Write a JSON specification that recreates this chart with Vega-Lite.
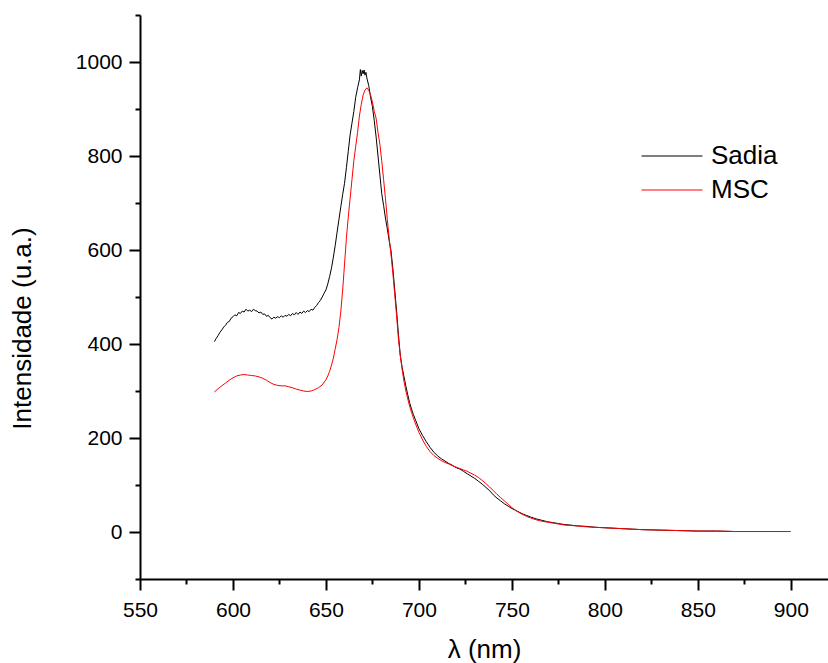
{
  "$schema": "https://vega.github.io/schema/vega-lite/v6.json",
  "autosize": {"type": "none"},
  "width": 688,
  "height": 564,
  "padding": {"left": 140, "top": 15, "right": 0, "bottom": 84},
  "background": "white",
  "config": {
    "view": {"stroke": null},
    "font": "Liberation Sans",
    "axis": {
      "grid": false,
      "domainColor": "black",
      "domainWidth": 2,
      "tickColor": "black",
      "tickWidth": 2,
      "labelColor": "black",
      "labelFont": "Liberation Sans",
      "labelFontSize": 21,
      "titleColor": "black",
      "titleFont": "Liberation Sans",
      "titleFontSize": 26,
      "titleFontWeight": "normal"
    }
  },
  "data": {
    "values": [
      {"s": "Sadia", "x": 590, "y": 405}, {"s": "Sadia", "x": 591, "y": 412}, {"s": "Sadia", "x": 592, "y": 418},
      {"s": "Sadia", "x": 593, "y": 425}, {"s": "Sadia", "x": 594, "y": 430}, {"s": "Sadia", "x": 595, "y": 436},
      {"s": "Sadia", "x": 596, "y": 440}, {"s": "Sadia", "x": 597, "y": 446}, {"s": "Sadia", "x": 598, "y": 448},
      {"s": "Sadia", "x": 599, "y": 455}, {"s": "Sadia", "x": 600, "y": 458}, {"s": "Sadia", "x": 601, "y": 462},
      {"s": "Sadia", "x": 602, "y": 460}, {"s": "Sadia", "x": 603, "y": 467}, {"s": "Sadia", "x": 604, "y": 465},
      {"s": "Sadia", "x": 605, "y": 470}, {"s": "Sadia", "x": 606, "y": 468}, {"s": "Sadia", "x": 607, "y": 474},
      {"s": "Sadia", "x": 608, "y": 470}, {"s": "Sadia", "x": 609, "y": 472}, {"s": "Sadia", "x": 610, "y": 469},
      {"s": "Sadia", "x": 611, "y": 474}, {"s": "Sadia", "x": 612, "y": 471}, {"s": "Sadia", "x": 613, "y": 470},
      {"s": "Sadia", "x": 614, "y": 466}, {"s": "Sadia", "x": 615, "y": 468}, {"s": "Sadia", "x": 616, "y": 463},
      {"s": "Sadia", "x": 617, "y": 464}, {"s": "Sadia", "x": 618, "y": 459}, {"s": "Sadia", "x": 619, "y": 461},
      {"s": "Sadia", "x": 620, "y": 456}, {"s": "Sadia", "x": 621, "y": 453}, {"s": "Sadia", "x": 622, "y": 457},
      {"s": "Sadia", "x": 623, "y": 455}, {"s": "Sadia", "x": 624, "y": 458}, {"s": "Sadia", "x": 625, "y": 456},
      {"s": "Sadia", "x": 626, "y": 460}, {"s": "Sadia", "x": 627, "y": 457}, {"s": "Sadia", "x": 628, "y": 461},
      {"s": "Sadia", "x": 629, "y": 459}, {"s": "Sadia", "x": 630, "y": 463}, {"s": "Sadia", "x": 631, "y": 460},
      {"s": "Sadia", "x": 632, "y": 465}, {"s": "Sadia", "x": 633, "y": 462}, {"s": "Sadia", "x": 634, "y": 467},
      {"s": "Sadia", "x": 635, "y": 463}, {"s": "Sadia", "x": 636, "y": 468}, {"s": "Sadia", "x": 637, "y": 465},
      {"s": "Sadia", "x": 638, "y": 470}, {"s": "Sadia", "x": 639, "y": 467}, {"s": "Sadia", "x": 640, "y": 471},
      {"s": "Sadia", "x": 641, "y": 469}, {"s": "Sadia", "x": 642, "y": 474}, {"s": "Sadia", "x": 643, "y": 472},
      {"s": "Sadia", "x": 644, "y": 478}, {"s": "Sadia", "x": 645, "y": 482}, {"s": "Sadia", "x": 646, "y": 488},
      {"s": "Sadia", "x": 647, "y": 493}, {"s": "Sadia", "x": 648, "y": 500}, {"s": "Sadia", "x": 649, "y": 508},
      {"s": "Sadia", "x": 650, "y": 515}, {"s": "Sadia", "x": 651, "y": 528}, {"s": "Sadia", "x": 652, "y": 544},
      {"s": "Sadia", "x": 653, "y": 562}, {"s": "Sadia", "x": 654, "y": 585}, {"s": "Sadia", "x": 655, "y": 610},
      {"s": "Sadia", "x": 656, "y": 638}, {"s": "Sadia", "x": 657, "y": 665}, {"s": "Sadia", "x": 658, "y": 692},
      {"s": "Sadia", "x": 659, "y": 718}, {"s": "Sadia", "x": 660, "y": 742}, {"s": "Sadia", "x": 661, "y": 775},
      {"s": "Sadia", "x": 662, "y": 810}, {"s": "Sadia", "x": 663, "y": 845}, {"s": "Sadia", "x": 664, "y": 870},
      {"s": "Sadia", "x": 665, "y": 895}, {"s": "Sadia", "x": 666, "y": 925}, {"s": "Sadia", "x": 667, "y": 945},
      {"s": "Sadia", "x": 668, "y": 962}, {"s": "Sadia", "x": 668.5, "y": 984}, {"s": "Sadia", "x": 669, "y": 970},
      {"s": "Sadia", "x": 669.5, "y": 982}, {"s": "Sadia", "x": 670, "y": 975}, {"s": "Sadia", "x": 670.5, "y": 983},
      {"s": "Sadia", "x": 671, "y": 972}, {"s": "Sadia", "x": 671.5, "y": 978}, {"s": "Sadia", "x": 672, "y": 966},
      {"s": "Sadia", "x": 673, "y": 950},
      {"s": "Sadia", "x": 674, "y": 925}, {"s": "Sadia", "x": 675, "y": 905}, {"s": "Sadia", "x": 676, "y": 875},
      {"s": "Sadia", "x": 677, "y": 840}, {"s": "Sadia", "x": 678, "y": 800}, {"s": "Sadia", "x": 679, "y": 760},
      {"s": "Sadia", "x": 680, "y": 720}, {"s": "Sadia", "x": 681, "y": 695}, {"s": "Sadia", "x": 682, "y": 668},
      {"s": "Sadia", "x": 683, "y": 645}, {"s": "Sadia", "x": 684, "y": 620}, {"s": "Sadia", "x": 685, "y": 598},
      {"s": "Sadia", "x": 686, "y": 560}, {"s": "Sadia", "x": 687, "y": 515}, {"s": "Sadia", "x": 688, "y": 470},
      {"s": "Sadia", "x": 689, "y": 420}, {"s": "Sadia", "x": 690, "y": 375}, {"s": "Sadia", "x": 691, "y": 350},
      {"s": "Sadia", "x": 692, "y": 330}, {"s": "Sadia", "x": 693, "y": 310}, {"s": "Sadia", "x": 694, "y": 292},
      {"s": "Sadia", "x": 695, "y": 275}, {"s": "Sadia", "x": 696, "y": 262}, {"s": "Sadia", "x": 697, "y": 250},
      {"s": "Sadia", "x": 698, "y": 240}, {"s": "Sadia", "x": 699, "y": 230}, {"s": "Sadia", "x": 700, "y": 220},
      {"s": "Sadia", "x": 702, "y": 205}, {"s": "Sadia", "x": 704, "y": 192}, {"s": "Sadia", "x": 706, "y": 180},
      {"s": "Sadia", "x": 708, "y": 170}, {"s": "Sadia", "x": 710, "y": 162}, {"s": "Sadia", "x": 712, "y": 156},
      {"s": "Sadia", "x": 714, "y": 151}, {"s": "Sadia", "x": 716, "y": 146}, {"s": "Sadia", "x": 718, "y": 142},
      {"s": "Sadia", "x": 720, "y": 137}, {"s": "Sadia", "x": 722, "y": 134}, {"s": "Sadia", "x": 724, "y": 129},
      {"s": "Sadia", "x": 726, "y": 124}, {"s": "Sadia", "x": 728, "y": 119}, {"s": "Sadia", "x": 730, "y": 114},
      {"s": "Sadia", "x": 732, "y": 108}, {"s": "Sadia", "x": 734, "y": 102}, {"s": "Sadia", "x": 736, "y": 95},
      {"s": "Sadia", "x": 738, "y": 88}, {"s": "Sadia", "x": 740, "y": 79}, {"s": "Sadia", "x": 742, "y": 72},
      {"s": "Sadia", "x": 744, "y": 66}, {"s": "Sadia", "x": 746, "y": 60}, {"s": "Sadia", "x": 748, "y": 55},
      {"s": "Sadia", "x": 750, "y": 50}, {"s": "Sadia", "x": 752, "y": 46}, {"s": "Sadia", "x": 754, "y": 42},
      {"s": "Sadia", "x": 756, "y": 38}, {"s": "Sadia", "x": 758, "y": 35}, {"s": "Sadia", "x": 760, "y": 32},
      {"s": "Sadia", "x": 763, "y": 28}, {"s": "Sadia", "x": 766, "y": 25}, {"s": "Sadia", "x": 769, "y": 22},
      {"s": "Sadia", "x": 772, "y": 20}, {"s": "Sadia", "x": 775, "y": 18}, {"s": "Sadia", "x": 778, "y": 16},
      {"s": "Sadia", "x": 781, "y": 15}, {"s": "Sadia", "x": 785, "y": 13}, {"s": "Sadia", "x": 790, "y": 12},
      {"s": "Sadia", "x": 795, "y": 10}, {"s": "Sadia", "x": 800, "y": 9}, {"s": "Sadia", "x": 805, "y": 8},
      {"s": "Sadia", "x": 810, "y": 7}, {"s": "Sadia", "x": 815, "y": 6}, {"s": "Sadia", "x": 820, "y": 5},
      {"s": "Sadia", "x": 830, "y": 4}, {"s": "Sadia", "x": 840, "y": 3}, {"s": "Sadia", "x": 850, "y": 2},
      {"s": "Sadia", "x": 860, "y": 2}, {"s": "Sadia", "x": 870, "y": 1}, {"s": "Sadia", "x": 880, "y": 1},
      {"s": "Sadia", "x": 890, "y": 1}, {"s": "Sadia", "x": 898, "y": 1},

      {"s": "MSC", "x": 590, "y": 298}, {"s": "MSC", "x": 592, "y": 305}, {"s": "MSC", "x": 594, "y": 311},
      {"s": "MSC", "x": 596, "y": 317}, {"s": "MSC", "x": 598, "y": 323}, {"s": "MSC", "x": 600, "y": 328},
      {"s": "MSC", "x": 602, "y": 332}, {"s": "MSC", "x": 604, "y": 334}, {"s": "MSC", "x": 606, "y": 335},
      {"s": "MSC", "x": 608, "y": 334}, {"s": "MSC", "x": 610, "y": 333}, {"s": "MSC", "x": 612, "y": 332},
      {"s": "MSC", "x": 614, "y": 330}, {"s": "MSC", "x": 616, "y": 327}, {"s": "MSC", "x": 618, "y": 323},
      {"s": "MSC", "x": 620, "y": 318}, {"s": "MSC", "x": 622, "y": 314}, {"s": "MSC", "x": 624, "y": 312},
      {"s": "MSC", "x": 626, "y": 311}, {"s": "MSC", "x": 628, "y": 311}, {"s": "MSC", "x": 630, "y": 309},
      {"s": "MSC", "x": 632, "y": 307}, {"s": "MSC", "x": 634, "y": 304}, {"s": "MSC", "x": 636, "y": 302},
      {"s": "MSC", "x": 638, "y": 300}, {"s": "MSC", "x": 640, "y": 299}, {"s": "MSC", "x": 642, "y": 300},
      {"s": "MSC", "x": 644, "y": 303}, {"s": "MSC", "x": 646, "y": 307}, {"s": "MSC", "x": 648, "y": 313},
      {"s": "MSC", "x": 650, "y": 324}, {"s": "MSC", "x": 651, "y": 332}, {"s": "MSC", "x": 652, "y": 342},
      {"s": "MSC", "x": 653, "y": 355}, {"s": "MSC", "x": 654, "y": 370}, {"s": "MSC", "x": 655, "y": 390},
      {"s": "MSC", "x": 656, "y": 410}, {"s": "MSC", "x": 657, "y": 435}, {"s": "MSC", "x": 658, "y": 470},
      {"s": "MSC", "x": 659, "y": 515}, {"s": "MSC", "x": 660, "y": 570}, {"s": "MSC", "x": 661, "y": 625},
      {"s": "MSC", "x": 662, "y": 670}, {"s": "MSC", "x": 663, "y": 710}, {"s": "MSC", "x": 664, "y": 750},
      {"s": "MSC", "x": 665, "y": 790}, {"s": "MSC", "x": 666, "y": 820}, {"s": "MSC", "x": 667, "y": 850},
      {"s": "MSC", "x": 668, "y": 885}, {"s": "MSC", "x": 669, "y": 910}, {"s": "MSC", "x": 670, "y": 930},
      {"s": "MSC", "x": 671, "y": 940}, {"s": "MSC", "x": 672, "y": 945}, {"s": "MSC", "x": 673, "y": 940},
      {"s": "MSC", "x": 674, "y": 930}, {"s": "MSC", "x": 675, "y": 915}, {"s": "MSC", "x": 676, "y": 895},
      {"s": "MSC", "x": 677, "y": 880}, {"s": "MSC", "x": 678, "y": 850}, {"s": "MSC", "x": 679, "y": 825},
      {"s": "MSC", "x": 680, "y": 790}, {"s": "MSC", "x": 681, "y": 750}, {"s": "MSC", "x": 682, "y": 710},
      {"s": "MSC", "x": 683, "y": 665}, {"s": "MSC", "x": 684, "y": 625}, {"s": "MSC", "x": 685, "y": 590},
      {"s": "MSC", "x": 686, "y": 550}, {"s": "MSC", "x": 687, "y": 505}, {"s": "MSC", "x": 688, "y": 460},
      {"s": "MSC", "x": 689, "y": 410}, {"s": "MSC", "x": 690, "y": 375}, {"s": "MSC", "x": 691, "y": 345},
      {"s": "MSC", "x": 692, "y": 320}, {"s": "MSC", "x": 693, "y": 300}, {"s": "MSC", "x": 694, "y": 283},
      {"s": "MSC", "x": 695, "y": 268}, {"s": "MSC", "x": 696, "y": 255}, {"s": "MSC", "x": 697, "y": 243},
      {"s": "MSC", "x": 698, "y": 232}, {"s": "MSC", "x": 699, "y": 222}, {"s": "MSC", "x": 700, "y": 212},
      {"s": "MSC", "x": 702, "y": 196}, {"s": "MSC", "x": 704, "y": 182}, {"s": "MSC", "x": 706, "y": 171},
      {"s": "MSC", "x": 708, "y": 163}, {"s": "MSC", "x": 710, "y": 157}, {"s": "MSC", "x": 712, "y": 152},
      {"s": "MSC", "x": 714, "y": 148}, {"s": "MSC", "x": 716, "y": 145}, {"s": "MSC", "x": 718, "y": 141},
      {"s": "MSC", "x": 720, "y": 138}, {"s": "MSC", "x": 722, "y": 135}, {"s": "MSC", "x": 724, "y": 132},
      {"s": "MSC", "x": 726, "y": 129}, {"s": "MSC", "x": 728, "y": 125}, {"s": "MSC", "x": 730, "y": 121},
      {"s": "MSC", "x": 732, "y": 116}, {"s": "MSC", "x": 734, "y": 110}, {"s": "MSC", "x": 736, "y": 103},
      {"s": "MSC", "x": 738, "y": 96}, {"s": "MSC", "x": 740, "y": 88}, {"s": "MSC", "x": 742, "y": 80},
      {"s": "MSC", "x": 744, "y": 73}, {"s": "MSC", "x": 746, "y": 66}, {"s": "MSC", "x": 748, "y": 59},
      {"s": "MSC", "x": 750, "y": 52}, {"s": "MSC", "x": 752, "y": 46}, {"s": "MSC", "x": 754, "y": 41},
      {"s": "MSC", "x": 756, "y": 37}, {"s": "MSC", "x": 758, "y": 33}, {"s": "MSC", "x": 760, "y": 30},
      {"s": "MSC", "x": 763, "y": 26}, {"s": "MSC", "x": 766, "y": 23}, {"s": "MSC", "x": 769, "y": 21},
      {"s": "MSC", "x": 772, "y": 19}, {"s": "MSC", "x": 775, "y": 17}, {"s": "MSC", "x": 778, "y": 15},
      {"s": "MSC", "x": 781, "y": 14}, {"s": "MSC", "x": 785, "y": 13}, {"s": "MSC", "x": 790, "y": 11},
      {"s": "MSC", "x": 795, "y": 10}, {"s": "MSC", "x": 800, "y": 9}, {"s": "MSC", "x": 805, "y": 8},
      {"s": "MSC", "x": 810, "y": 7}, {"s": "MSC", "x": 815, "y": 6}, {"s": "MSC", "x": 820, "y": 5},
      {"s": "MSC", "x": 830, "y": 4}, {"s": "MSC", "x": 840, "y": 3}, {"s": "MSC", "x": 850, "y": 2},
      {"s": "MSC", "x": 860, "y": 2}, {"s": "MSC", "x": 870, "y": 1}, {"s": "MSC", "x": 880, "y": 1},
      {"s": "MSC", "x": 890, "y": 1}, {"s": "MSC", "x": 900, "y": 1}
    ]
  },
  "mark": {"type": "line", "strokeWidth": 1, "interpolate": "linear"},
  "encoding": {
    "x": {
      "field": "x",
      "type": "quantitative",
      "scale": {"domain": [550, 920], "nice": false, "zero": false},
      "axis": {
        "title": "λ (nm)",
        "values": [550, 575, 600, 625, 650, 675, 700, 725, 750, 775, 800, 825, 850, 875, 900],
        "labelExpr": "datum.value % 50 === 0 ? datum.label : ''",
        "tickSize": {"condition": {"test": "datum.value % 50 === 0", "value": 11}, "value": 5},
        "labelPadding": 9,
        "labelFlush": false,
        "labelOverlap": false,
        "titleBaseline": "alphabetic",
        "titleY": 78
      }
    },
    "y": {
      "field": "y",
      "type": "quantitative",
      "scale": {"domain": [-100, 1100], "nice": false, "zero": false},
      "axis": {
        "title": "Intensidade (u.a.)",
        "values": [-100, 0, 100, 200, 300, 400, 500, 600, 700, 800, 900, 1000, 1100],
        "labelExpr": "(datum.value % 200 === 0 && datum.value >= 0 && datum.value <= 1000) ? datum.label : ''",
        "tickSize": {"condition": {"test": "datum.value % 200 === 0 && datum.value >= 0 && datum.value <= 1000", "value": 11}, "value": 5},
        "labelPadding": 7,
        "labelFlush": false,
        "labelOverlap": false,
        "format": "d",
        "titleBaseline": "middle",
        "titleAlign": "center",
        "titleX": -118,
        "titleY": 313
      }
    },
    "color": {
      "field": "s",
      "type": "nominal",
      "scale": {"domain": ["Sadia", "MSC"], "range": ["#000000", "#ff0000"]},
      "legend": {
        "title": null,
        "orient": "none",
        "legendX": 516,
        "legendY": 125,
        "padding": 0,
        "symbolType": "M-2,0H2",
        "symbolSize": 930,
        "symbolStrokeWidth": 1,
        "labelFont": "Liberation Sans",
        "labelFontSize": 26,
        "labelColor": "black",
        "labelOffset": 23,
        "rowPadding": 5
      }
    }
  }
}
